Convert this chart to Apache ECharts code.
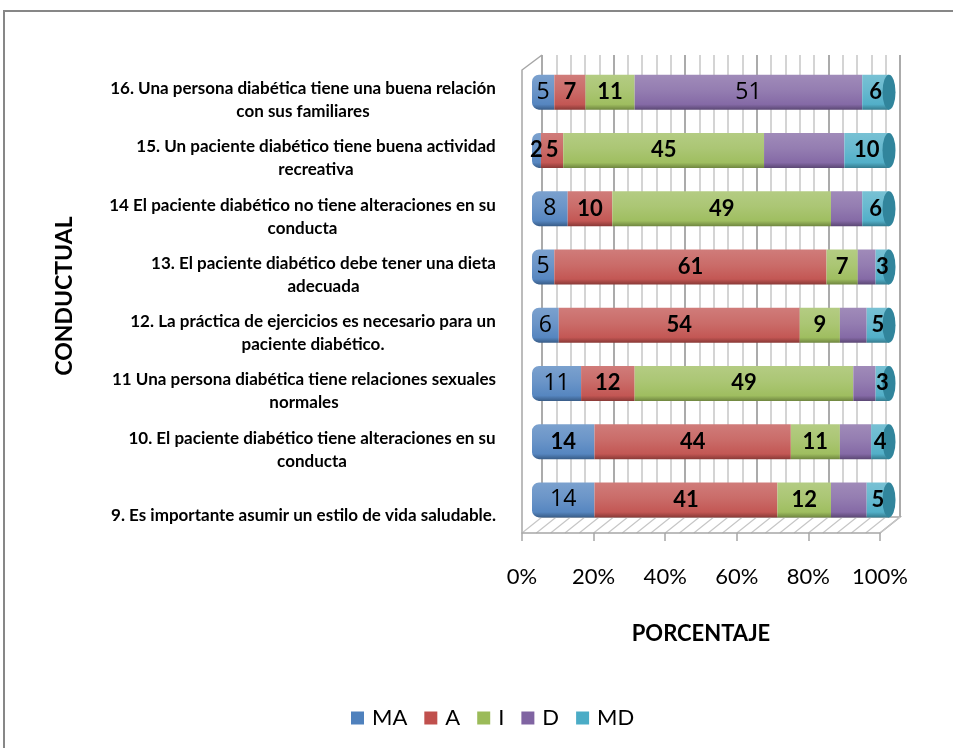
<!DOCTYPE html>
<html>
<head>
<meta charset="utf-8">
<script src="https://cdn.jsdelivr.net/npm/echarts@6/dist/echarts.min.js"></script>
<style>
  html, body { margin: 0; padding: 0; background: #fff; }
  #chart { width: 953px; height: 748px; }
</style>
</head>
<body>
<div id="chart"></div>
<script>
// categorias de abajo hacia arriba (9 ... 16)
var categories = [
    '9. Es importante asumir un estilo de vida saludable.',
    '10. El paciente diabético tiene alteraciones en su\nconducta',
    '11 Una persona diabética tiene relaciones sexuales\nnormales',
    '12. La práctica de ejercicios es necesario para un\npaciente diabético.',
    '13. El paciente diabético debe tener una dieta\nadecuada',
    '14 El paciente diabético no tiene alteraciones en su\nconducta',
    '15. Un paciente diabético tiene buena actividad\nrecreativa',
    '16. Una persona diabética tiene una buena relación\ncon sus familiares'
];
var seriesNames = ['MA', 'A', 'I', 'D', 'MD'];
var MA = [14, 14, 11, 6, 5, 8, 2, 5];
var A  = [41, 44, 12, 54, 61, 10, 5, 7];
var I  = [12, 11, 49, 9, 7, 49, 45, 11];
var D  = [8, 7, 5, 6, 4, 7, 18, 51];
var MD = [5, 4, 3, 5, 3, 6, 10, 6];
var tickLabels = ['0%', '20%', '40%', '60%', '80%', '100%'];

// estilos de etiquetas (como en el original de Excel)
var hiddenLabels = { D: [0, 1, 2, 3, 4, 5, 6] };
var thinLabels = { MA: [0, 2, 3, 4, 5, 7], D: [7] };
var labelShift = { 0: 16 };
var colors = ['#4f81bd', '#c0504d', '#9bbb59', '#8064a2', '#4bacc6'];
var FONT = 'Lato';

var values = [MA, A, I, D, MD];
var totals = categories.map(function (c, i) {
    return values.reduce(function (s, arr) { return s + arr[i]; }, 0);
});

function mix(hex, target, t) {
    var a = parseInt(hex.slice(1), 16), b = parseInt(target.slice(1), 16);
    var r = Math.round(((a >> 16) & 255) * (1 - t) + ((b >> 16) & 255) * t);
    var g = Math.round(((a >> 8) & 255) * (1 - t) + ((b >> 8) & 255) * t);
    var bl = Math.round((a & 255) * (1 - t) + (b & 255) * t);
    return 'rgb(' + r + ',' + g + ',' + bl + ')';
}
function cylinder(c) {
    return new echarts.graphic.LinearGradient(0, 0, 0, 1, [
        { offset: 0, color: mix(c, '#ffffff', 0.25) },
        { offset: 0.45, color: mix(c, '#ffffff', 0.16) },
        { offset: 0.85, color: mix(c, '#ffffff', 0.04) },
        { offset: 1, color: mix(c, '#000000', 0.28) }
    ]);
}

// etiquetas del eje: cada linea centrada dentro de su bloque
var ctx = document.createElement('canvas').getContext('2d');
ctx.font = 'bold 17px ' + FONT;
var rich = {};
categories.forEach(function (c, i) {
    var w = 0;
    c.split('\n').forEach(function (l) { w = Math.max(w, ctx.measureText(l).width); });
    rich['c' + i] = {
        width: Math.ceil(w) + 2, align: 'center', fontSize: 17, fontWeight: 'bold',
        fontFamily: FONT, lineHeight: 23, color: '#000',
        padding: [labelShift[i] || 0, 0, 0, 0]
    };
});

var series = [];
seriesNames.forEach(function (name, s) {
    series.push({
        name: name,
        type: 'bar',
        stack: 'total',
        xAxisIndex: 1,
        yAxisIndex: 1,
        barWidth: 35,
        barGap: '-100%',
        z: 2,
        itemStyle: {
            color: cylinder(colors[s]),
            borderRadius: s === 0 ? [7, 0, 0, 7] : 0
        },
        label: { show: false },
        data: values[s].map(function (v, i) { return v / totals[i] * 100; })
    });
});

// tapa del cilindro al final de cada barra
series.push({
    type: 'custom',
    xAxisIndex: 1,
    yAxisIndex: 1,
    z: 3,
    silent: true,
    data: totals.map(function (t, i) { return [100, i]; }),
    renderItem: function (params, api) {
        var p = api.coord([api.value(0), api.value(1)]);
        var r = 17.5;
        return {
            type: 'circle',
            x: p[0], y: p[1],
            scaleX: 6.5 / r,
            shape: { cx: 0, cy: 0, r: r },
            style: { fill: '#31859c' }
        };
    }
});

// capa de rotulos por encima de las tapas
seriesNames.forEach(function (name, s) {
    var hide = hiddenLabels[name] || [];
    var thin = thinLabels[name] || [];
    series.push({
        name: name,
        type: 'bar',
        stack: 'labels',
        xAxisIndex: 1,
        yAxisIndex: 1,
        barWidth: 35,
        barGap: '-100%',
        z: 4,
        silent: true,
        itemStyle: { color: 'rgba(0,0,0,0)' },
        label: {
            show: true,
            position: 'inside',
            formatter: function (p) { return p.data.raw; }
        },
        data: values[s].map(function (v, i) {
            var isThin = thin.indexOf(i) >= 0;
            return {
                value: v / totals[i] * 100,
                raw: v,
                label: {
                    show: hide.indexOf(i) < 0,
                    color: '#000',
                    fontSize: isThin ? 23 : 22,
                    fontFamily: isThin ? 'Open Sans' : FONT,
                    fontWeight: isThin ? 'normal' : 'bold'
                }
            };
        })
    });
});

var myChart = echarts.init(document.getElementById('chart'));

var option = {
    animation: false,
    backgroundColor: '#fff',
    textStyle: { fontFamily: FONT },
    legend: {
        left: 346,
        top: 702,
        itemWidth: 13,
        itemHeight: 13,
        itemGap: 17,
        icon: 'rect',
        textStyle: { fontSize: 22, color: '#000', fontFamily: FONT, padding: [0, 0, 0, 3] },
        data: seriesNames.map(function (n, i) {
            return { name: n, itemStyle: { color: colors[i] } };
        })
    },
    grid: [
        // pared del fondo
        { left: 542, right: 53, top: 55, bottom: 231 },
        // barras
        { left: 532, right: 64, top: 63, bottom: 219 },
        // piso frontal (eje con rótulos)
        { left: 522, right: 73, top: 532, bottom: 215 }
    ],
    xAxis: [
        {
            gridIndex: 0, type: 'value', min: 0, max: 100, interval: 20,
            axisLine: { show: false }, axisTick: { show: false }, axisLabel: { show: false },
            splitLine: { show: true, lineStyle: { color: '#8f8f8f', width: 1.5 } },
            minorTick: { show: false, splitNumber: 5 },
            minorSplitLine: { show: true, lineStyle: { color: '#c6c6c6', width: 1.5 } }
        },
        {
            gridIndex: 1, type: 'value', min: 0, max: 100, show: false
        },
        {
            gridIndex: 2, type: 'value', min: 0, max: 100, interval: 20,
            axisLine: { show: true, lineStyle: { color: '#a6a6a6', width: 1.5 } },
            axisTick: { show: true, length: 8, lineStyle: { color: '#a6a6a6', width: 1.5 } },
            splitLine: { show: false },
            axisLabel: {
                margin: 33, fontSize: 22, color: '#000', fontFamily: FONT,
                formatter: function (v) { return tickLabels[Math.round(v / 20)]; }
            },
            name: 'PORCENTAJE',
            nameLocation: 'middle',
            nameGap: 90,
            nameTextStyle: { fontSize: 22, fontWeight: 'bold', color: '#000', fontFamily: FONT }
        }
    ],
    yAxis: [
        { gridIndex: 0, type: 'category', data: categories, show: false },
        {
            gridIndex: 1, type: 'category', data: categories,
            axisLine: { show: false }, axisTick: { show: false },
            axisLabel: {
                margin: 35,
                align: 'right',
                padding: [16, 0, 0, 0],
                rich: rich,
                formatter: function (v, idx) {
                    return v.split('\n').map(function (l) {
                        return '{c' + idx + '|' + l + '}';
                    }).join('\n');
                }
            },
            name: 'CONDUCTUAL',
            nameLocation: 'middle',
            nameRotate: 90,
            nameGap: 456,
            nameTextStyle: { fontSize: 23, fontWeight: 'bold', color: '#000', fontFamily: FONT }
        },
        { gridIndex: 2, type: 'category', data: ['x'], show: false }
    ],
    series: series
};

myChart.setOption(option);

// marco 3D: pared lateral, piso rayado y borde exterior
var x0 = myChart.convertToPixel({ xAxisIndex: 2 }, 0);
var x1 = myChart.convertToPixel({ xAxisIndex: 2 }, 100);
var dx = 20, dy = -16, yFront = 533, yTop = 55;
var lineStyle = { stroke: '#a6a6a6', lineWidth: 1.5 };
var graphics = [
    { type: 'rect', shape: { x: 4, y: 11, width: 1000, height: 800 },
      style: { fill: 'none', stroke: '#878787', lineWidth: 2 }, z: 0 },
    { type: 'polyline', shape: { points: [[x0, yFront], [x0, yTop + 15], [x0 + dx, yTop]] }, style: lineStyle },
    { type: 'polyline', shape: { points: [[x0 + dx, yFront + dy], [x1 + dx, yFront + dy], [x1, yFront]] }, style: lineStyle }
];
for (var v = 0; v <= 100; v += 4) {
    var xf = myChart.convertToPixel({ xAxisIndex: 2 }, v);
    graphics.push({ type: 'line', shape: { x1: xf, y1: yFront, x2: xf + dx, y2: yFront + dy },
        style: { stroke: '#c6c6c6', lineWidth: 1.2 } });
}
myChart.setOption({ graphic: graphics });
</script>
</body>
</html>
